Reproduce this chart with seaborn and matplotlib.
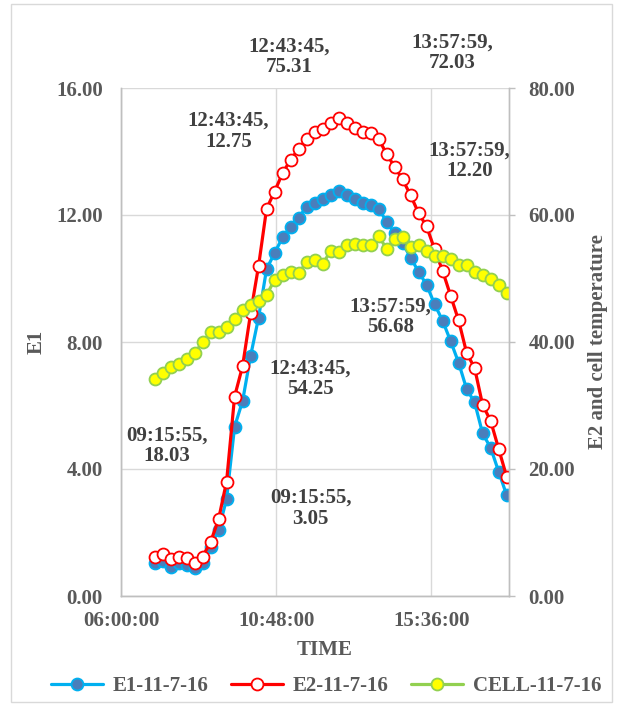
import matplotlib
matplotlib.use("Agg")
import matplotlib.pyplot as plt
import matplotlib.dates as mdates
from matplotlib.lines import Line2D
from matplotlib.patches import Rectangle
import seaborn as sns
import pandas as pd

# ---------------- data ----------------
times = [
    "07:02:16", "07:17:07", "07:31:58", "07:46:49", "08:01:40", "08:16:31",
    "08:31:22", "08:46:13", "09:01:04", "09:15:55", "09:30:46", "09:45:37",
    "10:00:28", "10:15:19", "10:30:10", "10:45:01", "10:59:52", "11:14:43",
    "11:29:34", "11:44:25", "11:59:16", "12:14:07", "12:28:58", "12:43:45",
    "12:58:36", "13:13:27", "13:28:18", "13:43:09", "13:57:59", "14:12:50",
    "14:27:41", "14:42:32", "14:57:23", "15:12:14", "15:27:05", "15:41:56",
    "15:56:47", "16:11:38", "16:26:29", "16:41:20", "16:56:11", "17:11:02",
    "17:25:53", "17:40:44", "17:55:35",
]
e1 = [1.05, 1.10, 0.92, 1.04, 0.98, 0.88, 1.04, 1.55, 2.08, 3.05,
      5.33, 6.14, 7.56, 8.77, 10.30, 10.80, 11.30, 11.63, 11.92, 12.26,
      12.37, 12.49, 12.63, 12.75, 12.63, 12.49, 12.37, 12.31, 12.20, 11.79,
      11.42, 11.11, 10.66, 10.21, 9.80, 9.19, 8.67, 8.03, 7.35, 6.52,
      6.10, 5.12, 4.67, 3.92, 3.18]
e2 = [6.2, 6.6, 5.8, 6.2, 6.0, 5.2, 6.2, 8.5, 12.1, 18.03,
      31.4, 36.2, 44.5, 52.0, 61.0, 63.7, 66.6, 68.7, 70.4, 72.0,
      73.0, 73.5, 74.5, 75.31, 74.5, 73.7, 73.1, 72.9, 72.03, 69.6,
      67.6, 65.6, 63.1, 60.3, 58.2, 54.6, 51.2, 47.3, 43.4, 38.3,
      35.9, 30.1, 27.6, 23.2, 18.8]
cell = [34.2, 35.1, 36.1, 36.5, 37.4, 38.2, 40.0, 41.5, 41.6, 42.3,
        43.7, 45.0, 45.8, 46.5, 47.4, 49.8, 50.6, 51.0, 50.8, 52.6,
        52.9, 52.3, 54.3, 54.25, 55.3, 55.5, 55.3, 55.3, 56.68, 54.7,
        56.2, 56.6, 55.0, 55.2, 54.4, 53.5, 53.6, 53.0, 52.2, 52.1,
        51.0, 50.6, 50.0, 49.0, 47.7]
series_names = ["E1-11-7-16", "E2-11-7-16", "CELL-11-7-16"]
x_ticks = ["06:00:00", "10:48:00", "15:36:00"]
x_range = ["06:00:00", "18:00:00"]
left_ticks = [0, 4, 8, 12, 16]
right_ticks = [0, 20, 40, 60, 80]
label_idx = [9, 23, 28]

# ---------------- style ----------------
sns.set_theme(style="white")
plt.rcParams["font.family"] = ["Liberation Serif", "DejaVu Serif"]
plt.rcParams["font.weight"] = "bold"

DAY = "2016-07-11 "
df = pd.DataFrame({
    "time": pd.to_datetime([DAY + t for t in times]),
    "E1": e1, "E2": e2, "CELL": cell,
})

W, H = 619, 704
fig = plt.figure(figsize=(W / 100, H / 100), dpi=100)
fig.patch.set_facecolor("white")
fig.add_artist(Rectangle((11 / W, 1 - 702 / H), 601 / W, 698 / H,
                         transform=fig.transFigure, fill=False,
                         edgecolor="#D9D9D9", lw=1.0))

ax = fig.add_axes([121 / W, 1 - 596 / H, 388 / W, 508 / H])
ax2 = ax.twinx()

c_e1_line, c_e1_face = "#00B0F0", "#4A7EBB"
c_e2 = "#FF0000"
c_cell_line, c_cell_face = "#92D050", "#FFFF00"
lw, ms, mew = 2.3, 8.6, 1.3

sns.lineplot(data=df, x="time", y="E1", ax=ax, color=c_e1_line, linewidth=lw,
             marker="o", markersize=ms, markerfacecolor=c_e1_face,
             markeredgecolor=c_e1_line, markeredgewidth=mew, legend=False)
sns.lineplot(data=df, x="time", y="E2", ax=ax2, color=c_e2, linewidth=lw,
             marker="o", markersize=ms, markerfacecolor="white",
             markeredgecolor=c_e2, markeredgewidth=mew, legend=False)
sns.lineplot(data=df, x="time", y="CELL", ax=ax2, color=c_cell_line, linewidth=lw,
             marker="o", markersize=ms, markerfacecolor=c_cell_face,
             markeredgecolor=c_cell_line, markeredgewidth=mew, legend=False)

# axes
ax.set_xlim(pd.Timestamp(DAY + x_range[0]), pd.Timestamp(DAY + x_range[1]))
ax.set_xticks([pd.Timestamp(DAY + t) for t in x_ticks])
ax.xaxis.set_major_formatter(mdates.DateFormatter("%H:%M:%S"))
ax.set_ylim(left_ticks[0], left_ticks[-1])
ax.set_yticks(left_ticks)
ax.set_yticklabels([f"{v:.2f}" for v in left_ticks])
ax2.set_ylim(right_ticks[0], right_ticks[-1])
ax2.set_yticks(right_ticks)
ax2.set_yticklabels([f"{v:.2f}" for v in right_ticks])

ax.grid(True, color="#D9D9D9", lw=1.0)
ax2.grid(False)
ax.set_xlabel("")
ax.set_ylabel("")
ax2.set_ylabel("")

tick_color = "#595959"
fs = 15
ax.tick_params(axis="x", length=0, pad=11, labelsize=fs, labelcolor=tick_color)
ax.tick_params(axis="y", length=0, pad=13, labelsize=fs, labelcolor=tick_color)
ax2.tick_params(axis="y", length=4, width=1, color="#BFBFBF", pad=10,
                labelsize=fs, labelcolor=tick_color)
for a in (ax, ax2):
    a.spines["top"].set_visible(False)
    for side in ("left", "bottom", "right"):
        a.spines[side].set_color("#BFBFBF")
        a.spines[side].set_linewidth(1.0)
for lab in ax.get_xticklabels() + ax.get_yticklabels() + ax2.get_yticklabels():
    lab.set_fontweight("bold")

fig.text(37 / W, 1 - 342 / H, "E1", rotation=90, ha="center", va="center",
         fontsize=fs, fontweight="bold", color=tick_color)
fig.text(598 / W, 1 - 342 / H, "E2 and cell temperature", rotation=90,
         ha="center", va="center", fontsize=fs, fontweight="bold", color=tick_color)
fig.text(325 / W, 1 - 650 / H, "TIME", ha="center", va="center",
         fontsize=fs, fontweight="bold", color=tick_color)

# data labels (offsets in pixels from the point)
ann_color = "#404040"
def label(axis, i, vals, dx, dy):
    axis.annotate(f"{times[i]},\n{vals[i]:.2f}", xy=(df["time"][i], vals[i]),
                  xytext=(dx, dy), textcoords="offset pixels", ha="center",
                  va="center", fontsize=fs, fontweight="bold", color=ann_color,
                  linespacing=1.05, annotation_clip=False)

label(ax2, label_idx[1], e2, -49, 61)
label(ax2, label_idx[2], e2, 74, 86)
label(ax, label_idx[1], e1, -110, 60)
label(ax, label_idx[2], e1, 91, 48)
label(ax2, label_idx[2], cell, 12, -81)
label(ax2, label_idx[1], cell, -28, -127)
label(ax2, label_idx[0], e2, -60, 36)
label(ax, label_idx[0], e1, 84, -9)

# legend
handles = [
    Line2D([], [], color=c_e1_line, lw=lw, marker="o", ms=ms,
           mfc=c_e1_face, mec=c_e1_line, mew=mew),
    Line2D([], [], color=c_e2, lw=lw, marker="o", ms=ms,
           mfc="white", mec=c_e2, mew=mew),
    Line2D([], [], color=c_cell_line, lw=lw, marker="o", ms=ms,
           mfc=c_cell_face, mec=c_cell_line, mew=mew),
]
leg = fig.legend(handles, series_names, loc="center",
                 bbox_to_anchor=(326 / W, 1 - 686 / H), ncol=3, frameon=False,
                 prop={"size": fs, "weight": "bold"}, handlelength=2.5,
                 handletextpad=0.45, columnspacing=1.1, borderaxespad=0)
for t in leg.get_texts():
    t.set_color(tick_color)

fig.savefig("out.png", dpi=100, facecolor="white")
